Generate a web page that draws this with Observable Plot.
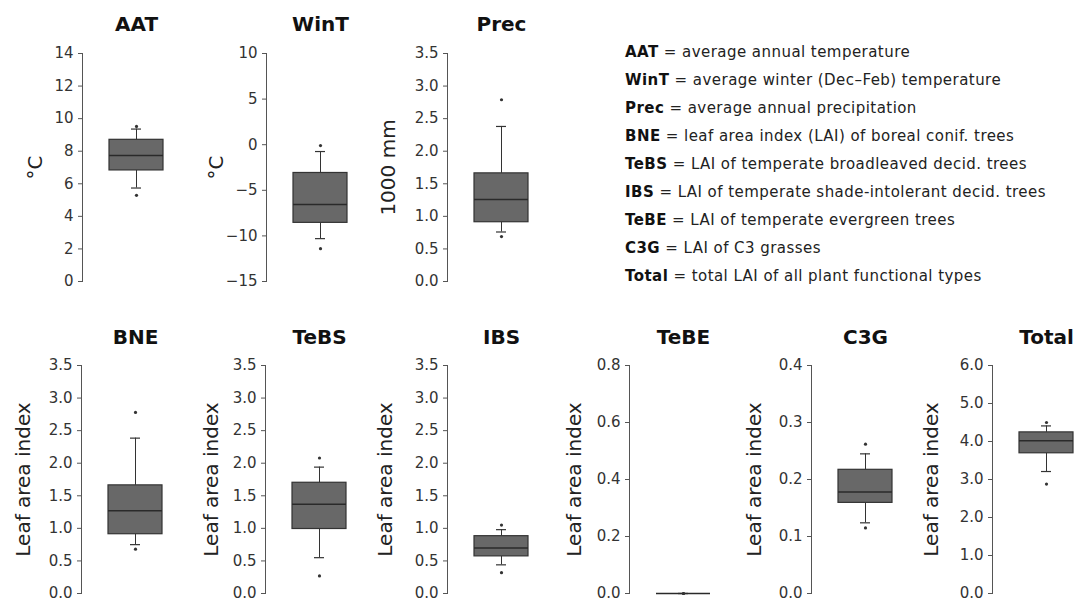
<!DOCTYPE html>
<html><head><meta charset="utf-8">
<script src="https://cdn.jsdelivr.net/npm/d3@7"></script>
<script src="https://cdn.jsdelivr.net/npm/@observablehq/plot@0.6"></script>
<style>
body{margin:0;overflow:hidden;background:#fff;font-family:"DejaVu Sans",Verdana,sans-serif}
#chart{position:relative;width:1075px;height:602px;overflow:hidden;background:#fff}
.panel{position:absolute;width:188px}
.panel svg{max-width:none !important}
#legend{position:absolute;left:625px;top:37.6px;font-size:15px;letter-spacing:0.45px;color:#222;line-height:28.1px;white-space:nowrap}
#legend b{color:#111}
</style></head><body><div id="chart"><div id="legend"></div></div>
<script>
// ---- data ----
const names   = ["AAT","WinT","Prec","BNE","TeBS","IBS","TeBE","C3G","Total"];
const units   = ["°C","°C","1000 mm","Leaf area index","Leaf area index","Leaf area index","Leaf area index","Leaf area index","Leaf area index"];
const yMin    = [0, -15, 0, 0, 0, 0, 0, 0, 0];
const yMax    = [14, 10, 3.5, 3.5, 3.5, 3.5, 0.8, 0.4, 6];
const yStep   = [2, 5, 0.5, 0.5, 0.5, 0.5, 0.2, 0.1, 1];
const yFormat = ["d","d",".1f",".1f",".1f",".1f",".1f",".1f",".1f"];
const q1      = [6.82, -8.57, 0.91, 0.91, 0.99, 0.57, 0, 0.159, 3.69];
const median  = [7.74, -6.56, 1.26, 1.27, 1.37, 0.70, 0, 0.178, 4.02];
const q3      = [8.70, -3.10, 1.66, 1.66, 1.70, 0.88, 0, 0.217, 4.24];
const whiskLo = [5.74, -10.3, 0.76, 0.75, 0.55, 0.44, 0, 0.124, 3.21];
const whiskHi = [9.36, -0.75, 2.38, 2.385, 1.94, 0.98, 0, 0.245, 4.41];
const outLo   = [5.29, -11.4, 0.69, 0.68, 0.27, 0.32, 0, 0.115, 2.88];
const outHi   = [9.52, -0.10, 2.79, 2.78, 2.08, 1.05, 0, 0.262, 4.50];
const legendTerms = ["AAT","WinT","Prec","BNE","TeBS","IBS","TeBE","C3G","Total"];
const legendTexts = [
  "average annual temperature",
  "average winter (Dec\u2013Feb) temperature",
  "average annual precipitation",
  "leaf area index (LAI) of boreal conif. trees",
  "LAI of temperate broadleaved decid. trees",
  "LAI of temperate shade-intolerant decid. trees",
  "LAI of temperate evergreen trees",
  "LAI of C3 grasses",
  "total LAI of all plant functional types"
];

// ---- layout ----
const axisX   = [82, 266, 447, 81, 265, 447, 629, 811, 992];
const rowOf   = [0, 0, 0, 1, 1, 1, 1, 1, 1];
const labelDx = [-47, -50, -59, -58, -54, -62, -55, -57, -61];
const ML = 80, PW = 108, PH = 228;
const rowTop = [0, 290], rowMT = [53, 75], titleDy = [-23, -22];
const font = '"DejaVu Sans", Verdana, sans-serif';

const chart = document.getElementById("chart");

names.forEach((name, i) => {
  const rec = {name, q1: q1[i], med: median[i], q3: q3[i], wl: whiskLo[i], wh: whiskHi[i]};
  const outs = [{name, v: outLo[i]}, {name, v: outHi[i]}];
  const ticks = d3.range(yMin[i], yMax[i] + yStep[i] / 2, yStep[i]);
  const r = rowOf[i];
  const svg = Plot.plot({
    width: ML + PW,
    height: rowMT[r] + PH + 12,
    marginLeft: ML, marginRight: 0, marginTop: rowMT[r], marginBottom: 12,
    style: {fontFamily: font, fontSize: "15px", background: "transparent", overflow: "visible", color: "#333", maxWidth: "none"},
    x: {type: "band", domain: [name], paddingInner: 0, paddingOuter: 0.5, axis: null},
    y: {domain: [yMin[i], yMax[i]], label: null},
    marks: [
      Plot.frame({anchor: "left", stroke: "#555"}),
      Plot.axisY({ticks, tickFormat: d3.format(yFormat[i]), tickSize: 4, tickPadding: 5, fontSize: 15, label: null, stroke: "#555", fill: "#333"}),
      Plot.text([units[i]], {frameAnchor: "left", textAnchor: "middle", lineAnchor: "middle", rotate: -90, dx: labelDx[i], fontSize: 20, fill: "#222", letterSpacing: "0.3px"}),
      Plot.text([name], {x: d => d, frameAnchor: "top", lineAnchor: "bottom", dy: titleDy[r], fontSize: 20, fontWeight: "bold", fill: "#111"}),
      Plot.ruleX([rec], {x: "name", y1: "wl", y2: "q1", stroke: "#333"}),
      Plot.ruleX([rec], {x: "name", y1: "q3", y2: "wh", stroke: "#333"}),
      Plot.tickY([rec], {x: "name", y: "wl", stroke: "#333", insetLeft: 22, insetRight: 22, strokeWidth: 1.2}),
      Plot.tickY([rec], {x: "name", y: "wh", stroke: "#333", insetLeft: 22, insetRight: 22, strokeWidth: 1.2}),
      Plot.barY([rec], {x: "name", y1: "q1", y2: "q3", fill: "#686868", stroke: "#333", strokeWidth: 1.2}),
      Plot.tickY([rec], {x: "name", y: "med", stroke: "#2a2a2a", strokeWidth: 1.5}),
      Plot.dot(outs, {x: "name", y: "v", r: 1.6, fill: "#333", stroke: null})
    ]
  });
  const div = document.createElement("div");
  div.className = "panel";
  div.style.left = (axisX[i] - ML) + "px";
  div.style.top = rowTop[r] + "px";
  div.appendChild(svg);
  chart.appendChild(div);
});

const legend = document.getElementById("legend");
legendTerms.forEach((t, i) => {
  const line = document.createElement("div");
  const b = document.createElement("b");
  b.textContent = t;
  line.appendChild(b);
  line.appendChild(document.createTextNode(" = " + legendTexts[i]));
  legend.appendChild(line);
});
</script></body></html>
